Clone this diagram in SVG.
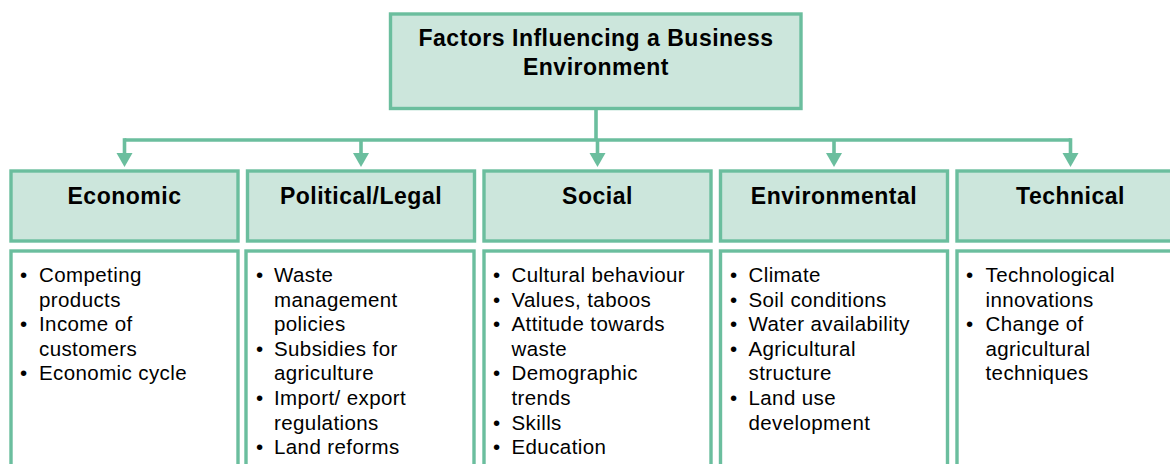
<svg xmlns="http://www.w3.org/2000/svg" width="1170" height="464" viewBox="0 0 1170 464">
<style>
.box{fill:#cce6dc;stroke:#6bbe9e;stroke-width:3.4}
.body{fill:#ffffff;stroke:#6bbe9e;stroke-width:3.4}
.ttl{font-family:"Liberation Sans",Arial,sans-serif;font-weight:bold;font-size:23px;letter-spacing:0.5px;fill:#000;text-anchor:middle}
.txt{font-family:"Liberation Sans",Arial,sans-serif;font-size:20.5px;letter-spacing:0.4px;fill:#000}
.con{fill:none;stroke:#6bbe9e;stroke-width:3.6}
.arr{fill:#6bbe9e}
</style>
<rect width="1170" height="464" fill="#ffffff"/>
<g id="connectors">
<path class="con" d="M596,110 V140"/>
<path class="con" d="M124.5,140 H1070.5"/>
<path class="con" d="M124.5,138.2 V154"/>
<path class="con" d="M361,140 V154"/>
<path class="con" d="M597.5,140 V154"/>
<path class="con" d="M834,140 V154"/>
<path class="con" d="M1070.5,138.2 V154"/>
<path class="arr" d="M116.5,153 H132.5 L124.5,167 Z"/>
<path class="arr" d="M353,153 H369 L361,167 Z"/>
<path class="arr" d="M589.5,153 H605.5 L597.5,167 Z"/>
<path class="arr" d="M826,153 H842 L834,167 Z"/>
<path class="arr" d="M1062.5,153 H1078.5 L1070.5,167 Z"/>
</g>
<g id="root">
<rect class="box" x="390.5" y="14" width="410.5" height="94.5"/>
<text class="ttl" x="596" y="46">Factors Influencing a Business</text>
<text class="ttl" x="596" y="75">Environment</text>
</g>
<g id="economic">
<rect class="box" x="11" y="171" width="227" height="70"/>
<text class="ttl" x="124.5" y="204">Economic</text>
<rect class="body" x="11" y="251" width="227" height="260"/>
<text class="txt">
<tspan x="20" y="282">•</tspan><tspan x="39" y="282">Competing</tspan>
<tspan x="39" y="306.6">products</tspan>
<tspan x="20" y="331.2">•</tspan><tspan x="39" y="331.2">Income of</tspan>
<tspan x="39" y="355.8">customers</tspan>
<tspan x="20" y="380.4">•</tspan><tspan x="39" y="380.4">Economic cycle</tspan>
</text>
</g>
<g id="political">
<rect class="box" x="247.5" y="171" width="227" height="70"/>
<text class="ttl" x="361" y="204">Political/Legal</text>
<rect class="body" x="246" y="251" width="228" height="260"/>
<text class="txt">
<tspan x="256" y="282">•</tspan><tspan x="274" y="282">Waste</tspan>
<tspan x="274" y="306.6">management</tspan>
<tspan x="274" y="331.2">policies</tspan>
<tspan x="256" y="355.8">•</tspan><tspan x="274" y="355.8">Subsidies for</tspan>
<tspan x="274" y="380.4">agriculture</tspan>
<tspan x="256" y="405">•</tspan><tspan x="274" y="405">Import/ export</tspan>
<tspan x="274" y="429.6">regulations</tspan>
<tspan x="256" y="454.2">•</tspan><tspan x="274" y="454.2">Land reforms</tspan>
</text>
</g>
<g id="social">
<rect class="box" x="484" y="171" width="227" height="70"/>
<text class="ttl" x="597.5" y="204">Social</text>
<rect class="body" x="484" y="251" width="227" height="260"/>
<text class="txt">
<tspan x="493" y="282">•</tspan><tspan x="511.5" y="282">Cultural behaviour</tspan>
<tspan x="493" y="306.6">•</tspan><tspan x="511.5" y="306.6">Values, taboos</tspan>
<tspan x="493" y="331.2">•</tspan><tspan x="511.5" y="331.2">Attitude towards</tspan>
<tspan x="511.5" y="355.8">waste</tspan>
<tspan x="493" y="380.4">•</tspan><tspan x="511.5" y="380.4">Demographic</tspan>
<tspan x="511.5" y="405">trends</tspan>
<tspan x="493" y="429.6">•</tspan><tspan x="511.5" y="429.6">Skills</tspan>
<tspan x="493" y="454.2">•</tspan><tspan x="511.5" y="454.2">Education</tspan>
</text>
</g>
<g id="environmental">
<rect class="box" x="720.5" y="171" width="227" height="70"/>
<text class="ttl" x="834" y="204">Environmental</text>
<rect class="body" x="720.5" y="251" width="227" height="260"/>
<text class="txt">
<tspan x="730" y="282">•</tspan><tspan x="748.5" y="282">Climate</tspan>
<tspan x="730" y="306.6">•</tspan><tspan x="748.5" y="306.6">Soil conditions</tspan>
<tspan x="730" y="331.2">•</tspan><tspan x="748.5" y="331.2">Water availability</tspan>
<tspan x="730" y="355.8">•</tspan><tspan x="748.5" y="355.8">Agricultural</tspan>
<tspan x="748.5" y="380.4">structure</tspan>
<tspan x="730" y="405">•</tspan><tspan x="748.5" y="405">Land use</tspan>
<tspan x="748.5" y="429.6">development</tspan>
</text>
</g>
<g id="technical">
<rect class="box" x="957" y="171" width="227" height="70"/>
<text class="ttl" x="1070.5" y="204">Technical</text>
<rect class="body" x="957" y="251" width="227" height="260"/>
<text class="txt">
<tspan x="966" y="282">•</tspan><tspan x="985.5" y="282">Technological</tspan>
<tspan x="985.5" y="306.6">innovations</tspan>
<tspan x="966" y="331.2">•</tspan><tspan x="985.5" y="331.2">Change of</tspan>
<tspan x="985.5" y="355.8">agricultural</tspan>
<tspan x="985.5" y="380.4">techniques</tspan>
</text>
</g>
</svg>
